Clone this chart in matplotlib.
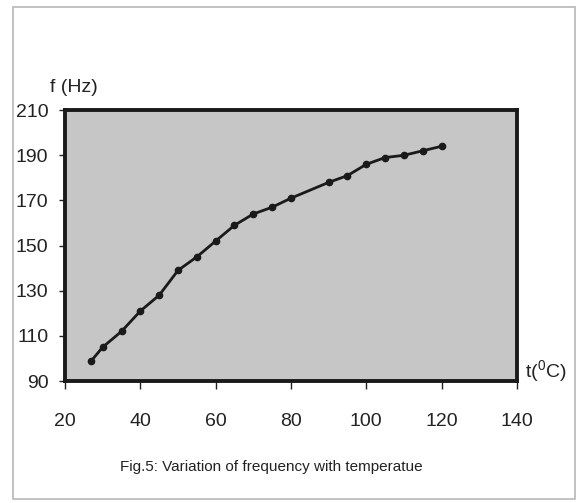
import matplotlib
matplotlib.use('Agg')
import matplotlib.pyplot as plt
from matplotlib.patches import Rectangle

# temperature (deg C) and frequency (Hz)
temp = [27, 30, 35, 40, 45, 50, 55, 60, 65, 70, 75, 80, 90, 95, 100, 105, 110, 115, 120]
freq = [99, 105, 112, 121, 128, 139, 145, 152, 159, 164, 167, 171, 178, 181, 186, 189, 190, 192, 194]

x_ticks = [20, 40, 60, 80, 100, 120, 140]
y_ticks = [90, 110, 130, 150, 170, 190, 210]

plt.rcParams['font.family'] = ['Liberation Sans', 'DejaVu Sans']
plt.rcParams['mathtext.fontset'] = 'custom'
plt.rcParams['mathtext.rm'] = 'Liberation Sans'
plt.rcParams['mathtext.default'] = 'regular'

fig = plt.figure(figsize=(5.86, 5.03), dpi=100)
ax = fig.add_axes([0.111, 0.2425, 0.771, 0.5385])

# outer frame of the scanned figure
fig.patches.append(Rectangle((0.022, 0.008), 0.96, 0.978, transform=fig.transFigure,
                             fill=False, edgecolor='#b8b8b8', linewidth=1.2))

ax.set_facecolor('#c6c6c6')
ax.plot(temp, freq, '-', color='#1a1a1a', linewidth=2, marker='o', markersize=4.5)

ax.set_xlim(20, 140)
ax.set_ylim(90, 210)
ax.set_xticks(x_ticks)
ax.set_yticks(y_ticks)
ax.tick_params(axis='x', length=6, width=1, pad=17, labelsize=14, colors='#222222')
ax.tick_params(axis='y', length=4, width=1, pad=8, labelsize=14, colors='#222222')

for s in ax.spines.values():
    s.set_linewidth(2.8)
    s.set_color('#1a1a1a')

fig.text(50 / 586, 1 - 88 / 503, 'f (Hz)', fontsize=14, color='#222222', va='center', ha='left')
fig.text(525 / 586, 1 - 371 / 503, 't($^0$C)', fontsize=14, color='#222222', va='center', ha='left')
fig.text(120 / 586, 1 - 467 / 503, 'Fig.5: Variation of frequency with temperatue',
         fontsize=11, color='#222222', va='center', ha='left')

fig.savefig('out.png', dpi=100)
